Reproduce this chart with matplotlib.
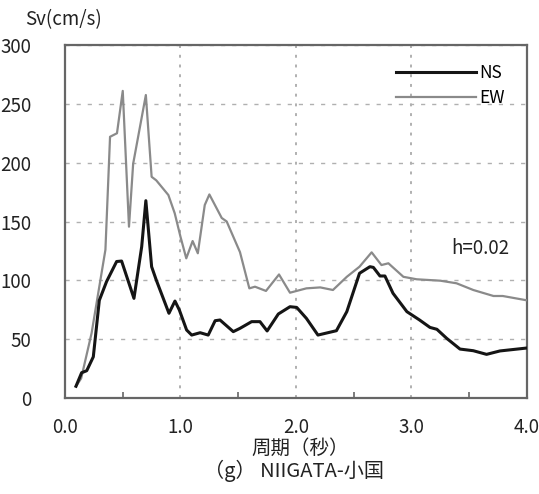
import numpy as np
import matplotlib
matplotlib.use("Agg")
import matplotlib.pyplot as plt
from matplotlib.ticker import MultipleLocator

plt.rcParams['font.family'] = ['Noto Sans CJK JP', 'DejaVu Sans']

# period (s) and velocity response (cm/s)
ns_t = [0.095, 0.144, 0.188, 0.245, 0.297, 0.36, 0.447, 0.49, 0.597, 0.664, 0.70, 0.75, 0.79,
        0.90, 0.952, 0.99, 1.053, 1.097, 1.17, 1.24, 1.30, 1.342, 1.457, 1.515, 1.616, 1.688,
        1.75, 1.847, 1.948, 2.006, 2.09, 2.19, 2.35, 2.44, 2.55, 2.64, 2.67, 2.727, 2.77,
        2.84, 2.96, 3.07, 3.16, 3.22, 3.305, 3.42, 3.535, 3.65, 3.766, 4.0]
ns_sv = [10, 21.5, 23.2, 35, 83, 99, 116, 116.4, 84.7, 128.6, 167.7, 111.6, 100.3,
         72, 82.4, 74.8, 57.8, 53.5, 55.5, 53.5, 65.7, 66.3, 56.4, 59.2, 64.9, 64.9,
         57, 71.4, 77.6, 77, 67.7, 53.5, 57.2, 73.4, 106, 111.6, 111, 103.7, 103.7,
         89, 73.4, 66.3, 60, 58.4, 50.7, 41.6, 40.2, 37.1, 40, 42.5]

ew_t = [0.095, 0.14, 0.23, 0.35, 0.39, 0.45, 0.50, 0.554, 0.59, 0.70, 0.75, 0.79, 0.895,
        0.95, 1.0, 1.05, 1.105, 1.15, 1.21, 1.25, 1.357, 1.40, 1.515, 1.596, 1.645, 1.74,
        1.853, 1.948, 2.09, 2.21, 2.32, 2.44, 2.55, 2.655, 2.74, 2.80, 2.93, 3.045, 3.25,
        3.39, 3.535, 3.71, 3.79, 4.0]
ew_sv = [10, 16.7, 55, 126, 222, 225, 261, 145.6, 199, 257.5, 188, 185, 172.5,
         157, 137, 118.7, 133.4, 123, 164, 173, 153, 150, 124, 93.2, 94.6, 91,
         105, 89.5, 93.2, 94, 91.8, 103, 111.6, 123.8, 113, 114.5, 103, 100.9, 99.7,
         97.5, 91.8, 86.7, 86.7, 83]

xticks = [0.0, 1.0, 2.0, 3.0, 4.0]
yticks = [0, 50, 100, 150, 200, 250, 300]

fig = plt.figure(figsize=(5.39, 4.94), dpi=100)
ax = fig.add_axes([0.1206, 0.1943, 0.8571, 0.7146])

ax.plot(ew_t, ew_sv, color='#8a8a8a', lw=1.6, label='EW', zorder=3)
ax.plot(ns_t, ns_sv, color='#151515', lw=2.2, label='NS', zorder=4)

ax.set_xlim(0, 4.0)
ax.set_ylim(0, 300)
ax.set_xticks(xticks)
ax.set_xticklabels(['%.1f' % v for v in xticks])
ax.set_yticks(yticks)
ax.xaxis.set_minor_locator(MultipleLocator(0.5))
ax.tick_params(axis='both', which='major', length=0, labelsize=13.5, colors='#222222')
ax.tick_params(axis='x', which='major', pad=14)
ax.tick_params(axis='y', which='major', pad=24)
ax.tick_params(axis='x', which='minor', direction='in', length=4, width=1.2, color='#666666')

ax.grid(axis='y', which='major', ls=(0, (3, 5)), color='#b0b0b0', lw=1.0)
ax.grid(axis='x', which='major', ls=(0, (1.5, 3.5)), color='#b0b0b0', lw=1.4)

for s in ax.spines.values():
    s.set_color('#666666')
    s.set_linewidth(1.6)

handles, labels = ax.get_legend_handles_labels()
ax.legend(handles[::-1], labels[::-1], loc='upper right', bbox_to_anchor=(0.985, 0.99),
          frameon=False, handlelength=4.6, handletextpad=0.15, labelspacing=0.4,
          fontsize=12.5)

ax.text(3.6, 127, 'h=0.02', fontsize=13.5, ha='center', va='center', color='#222222')

fig.text(25 / 539, 1 - 20 / 494, 'Sv(cm/s)', fontsize=13.5, ha='left', va='center', color='#222222')
fig.text(300 / 539, 1 - 448 / 494, '周期（秒）', fontsize=14, ha='center', va='center', color='#222222')
fig.text(294 / 539, 1 - 471 / 494, '（g） NIIGATA-小国', fontsize=14.5, ha='center', va='center',
         color='#222222')

fig.savefig('out.png', dpi=100)
